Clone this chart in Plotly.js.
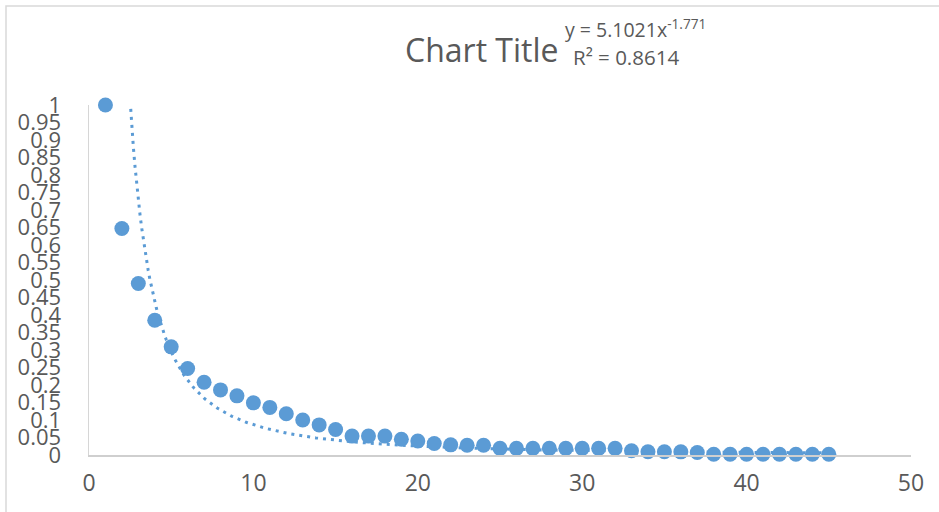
<!DOCTYPE html>
<html>
<head>
<meta charset="utf-8">
<script src="https://cdn.plot.ly/plotly-3.0.1.min.js"></script>
<style>
  html, body { margin: 0; padding: 0; background: #ffffff; }
  #chart { width: 939px; height: 512px; }
</style>
</head>
<body>
<div id="chart"></div>
<script>
// ---- data ----
const xValues = [1,2,3,4,5,6,7,8,9,10,11,12,13,14,15,16,17,18,19,20,21,22,23,24,25,26,27,28,29,30,31,32,33,34,35,36,37,38,39,40,41,42,43,44,45];
const yValues = [1.0,0.647,0.49,0.385,0.309,0.247,0.208,0.186,0.169,0.149,0.136,0.118,0.100,0.086,0.073,0.054,0.054,0.054,0.045,0.040,0.033,0.029,0.028,0.028,0.019,0.019,0.019,0.019,0.019,0.019,0.019,0.019,0.012,0.0095,0.0095,0.009,0.007,0.002,0.002,0.002,0.002,0.002,0.002,0.002,0.002];

// power trendline coefficients as printed on the chart
const trendA = 5.1021;
const trendB = -1.771;
const rSquared = 0.8614;

const chartTitle = "Chart Title";
const yTickVals = [0,0.05,0.1,0.15,0.2,0.25,0.3,0.35,0.4,0.45,0.5,0.55,0.6,0.65,0.7,0.75,0.8,0.85,0.9,0.95,1];
const yTickText = ["0","0.05","0.1","0.15","0.2","0.25","0.3","0.35","0.4","0.45","0.5","0.55","0.6","0.65","0.7","0.75","0.8","0.85","0.9","0.95","1"];
const xTickVals = [0,10,20,30,40,50];

// trendline evaluated along the data range
const trendX = [];
const trendY = [];
for (let x = xValues[0]; x <= xValues[xValues.length - 1] + 1e-9; x += 0.1) {
  trendX.push(x);
  trendY.push(trendA * Math.pow(x, trendB));
}

const blue = "#5B9BD5";
const textGray = "#595959";
const tickFont = "'Liberation Sans Narrow', 'Open Sans', sans-serif";
const mainFont = "'Open Sans', 'Noto Sans', sans-serif";

const ML = 89, MR = 28, MT = 105, MB = 57, W = 939, H = 512;
const PW = W - ML - MR, PH = H - MT - MB;
const px = p => (p - ML) / PW;
const py = p => (H - MB - p) / PH;

const traces = [
  {
    x: trendX, y: trendY, type: "scatter", mode: "lines",
    line: { color: blue, width: 3, dash: "3px,5px" },
    hoverinfo: "skip", showlegend: false
  },
  {
    x: xValues, y: yValues, type: "scatter", mode: "markers",
    marker: { color: blue, size: 15 },
    cliponaxis: false, showlegend: false
  }
];

const layout = {
  width: W, height: H,
  margin: { l: ML, r: MR, t: MT, b: MB, pad: 0 },
  paper_bgcolor: "#ffffff", plot_bgcolor: "#ffffff",
  showlegend: false,
  xaxis: {
    range: [0, 50], tickmode: "array", tickvals: xTickVals,
    showgrid: false, zeroline: false,
    showline: true, linecolor: "#cfcfcf", linewidth: 1.5,
    ticks: "", ticklabelstandoff: 7,
    tickfont: { family: tickFont, size: 23, color: textGray }
  },
  yaxis: {
    range: [0, 1], tickmode: "array", tickvals: yTickVals, ticktext: yTickText,
    showgrid: false, zeroline: false,
    showline: true, linecolor: "#d6d6d6", linewidth: 1.5,
    ticks: "", ticklabelstandoff: 22,
    tickfont: { family: tickFont, size: 22, color: textGray }
  },
  annotations: [
    {
      text: chartTitle, xref: "paper", yref: "paper",
      x: px(482), y: py(50), xanchor: "center", yanchor: "middle",
      showarrow: false, font: { family: mainFont, size: 32, color: textGray }
    },
    {
      text: "y = " + trendA + "x<sup>" + trendB + "</sup>", xref: "paper", yref: "paper",
      x: px(563), y: py(28), xanchor: "left", yanchor: "middle",
      showarrow: false, font: { family: mainFont, size: 19.5, color: textGray }
    },
    {
      text: "R² = " + rSquared, xref: "paper", yref: "paper",
      x: px(571), y: py(57), xanchor: "left", yanchor: "middle",
      showarrow: false, font: { family: mainFont, size: 20.5, color: textGray }
    }
  ],
  shapes: [
    {
      type: "rect", xref: "paper", yref: "paper",
      x0: px(6), x1: px(1000), y0: py(600), y1: py(6),
      line: { color: "#d9d9d9", width: 1.5 }, fillcolor: "rgba(0,0,0,0)", layer: "below"
    }
  ]
};

Plotly.newPlot("chart", traces, layout, { staticPlot: true, displayModeBar: false });
</script>
</body>
</html>
